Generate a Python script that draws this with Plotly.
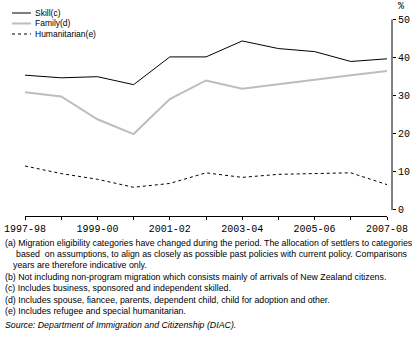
import plotly.graph_objects as go

W, H = 416, 340

years = ["1997-98", "1998-99", "1999-00", "2000-01", "2001-02", "2002-03",
         "2003-04", "2004-05", "2005-06", "2006-07", "2007-08"]
skill = [35.3, 34.6, 34.9, 32.8, 40.1, 40.1, 44.3, 42.3, 41.5, 38.9, 39.6]
family = [30.8, 29.7, 23.7, 19.8, 29.0, 33.9, 31.7, 32.9, 34.2, 35.3, 36.4]
humanitarian = [11.4, 9.4, 7.9, 5.8, 6.8, 9.6, 8.4, 9.2, 9.4, 9.6, 6.5]
y_ticks = [0, 10, 20, 30, 40, 50]

footnotes = [
    (3, 243, "(a) Migration eligibility categories have changed during the period. The allocation of settlers to categories"),
    (14, 254, "based  on assumptions, to align as closely as possible past policies with current policy. Comparisons"),
    (11, 265, "years are therefore indicative only."),
    (3, 277, "(b) Not including non-program migration which consists mainly of arrivals of New Zealand citizens."),
    (3, 288, "(c) Includes business, sponsored and independent skilled."),
    (3, 300, "(d) Includes spouse, fiancee, parents, dependent child, child for adoption and other."),
    (3, 311, "(e) Includes refugee and special humanitarian."),
]
source = "<i>Source: Department of Immigration and Citizenship (DIAC).</i>"

TICK_FONT = dict(family="Liberation Mono", size=10, color="black")
NOTE_FONT = dict(family="Liberation Sans", size=8.8, color="black")

# pixel layout of the plot (0 sits at 209.3px, 50 at 19.3px, x axis line at 216px)
Y0_PX, Y50_PX, XAXIS_PX = 209.3, 19.3, 216
units_per_px = 50 / (Y0_PX - Y50_PX)
y_bottom = -(XAXIS_PX - Y0_PX) * units_per_px


def px_x(x):
    return x / W


def px_y(y):
    return 1 - y / H


fig = go.Figure()
fig.add_trace(go.Scatter(x=years, y=skill, mode="lines", name="Skill(c)",
                         line=dict(color="black", width=1)))
fig.add_trace(go.Scatter(x=years, y=family, mode="lines", name="Family(d)",
                         line=dict(color="#bdbdbd", width=2)))
fig.add_trace(go.Scatter(x=years, y=humanitarian, mode="lines", name="Humanitarian(e)",
                         line=dict(color="black", width=1, dash="3px,3px")))

# hand-drawn legend, the plotly one can't be packed this tight
legend_items = [("Skill(c)", 13, dict(color="black", width=1)),
                ("Family(d)", 23.5, dict(color="#bdbdbd", width=2)),
                ("Humanitarian(e)", 34, dict(color="black", width=1, dash="3px,3px"))]
shapes = []
annotations = []
for label, ly, line in legend_items:
    shapes.append(dict(type="line", xref="paper", yref="paper",
                       x0=px_x(12), x1=px_x(31), y0=px_y(ly), y1=px_y(ly), line=line))
    annotations.append(dict(text=label, xref="paper", yref="paper", x=px_x(33), y=px_y(ly),
                            xanchor="left", yanchor="middle", showarrow=False,
                            font=dict(family="Liberation Sans", size=8.5, color="black")))

# y axis line only spans 0-50, detached from the x axis
shapes.append(dict(type="line", xref="paper", yref="y", x0=px_x(392), x1=px_x(392),
                   y0=-0.2, y1=50, line=dict(color="black", width=1)))

annotations.append(dict(text="%", xref="paper", yref="paper", x=px_x(401), y=px_y(6),
                        xanchor="center", yanchor="middle", showarrow=False, font=TICK_FONT))

for nx, ny, txt in footnotes:
    annotations.append(dict(text=txt, xref="paper", yref="paper", x=px_x(nx), y=px_y(ny),
                            xanchor="left", yanchor="middle", showarrow=False, font=NOTE_FONT))
annotations.append(dict(text=source, xref="paper", yref="paper", x=px_x(3), y=px_y(325),
                        xanchor="left", yanchor="middle", showarrow=False, font=NOTE_FONT))

fig.update_layout(
    width=W, height=H,
    margin=dict(l=0, r=0, t=0, b=0),
    plot_bgcolor="white", paper_bgcolor="white",
    showlegend=False,
    shapes=shapes,
    annotations=annotations,
    xaxis=dict(
        type="category", range=[0, len(years) - 1],
        domain=[px_x(25), px_x(387)],
        anchor="y",
        tickvals=years, ticktext=[y if i % 2 == 0 else "" for i, y in enumerate(years)],
        showline=True, linecolor="black", linewidth=1,
        ticks="outside", ticklen=3, tickcolor="black",
        showgrid=False, zeroline=False, tickfont=TICK_FONT, automargin=False,
    ),
    yaxis=dict(
        range=[y_bottom, 50], domain=[px_y(XAXIS_PX), px_y(Y50_PX)],
        side="right", anchor="free", position=px_x(392),
        tickvals=y_ticks,
        showline=False,
        ticks="outside", ticklen=3, tickcolor="black",
        showgrid=False, zeroline=False, tickfont=TICK_FONT, automargin=False,
    ),
)

# page has a default 8px body margin that would push the chart off the window
fig.write_html("out.html", config={"displayModeBar": False},
               post_script="document.body.style.margin='0';")
